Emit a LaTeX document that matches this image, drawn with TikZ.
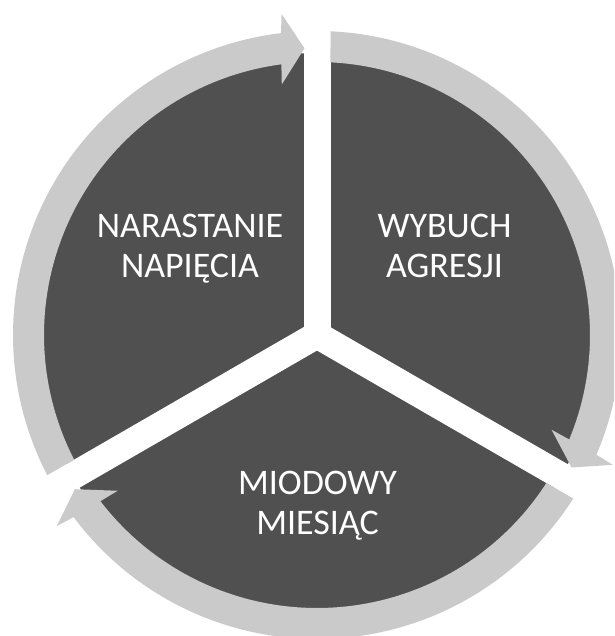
\documentclass[tikz,border=0pt]{standalone}
\usepackage{fontspec}
\setmainfont{Carlito}
\definecolor{segdark}{HTML}{505050}
\definecolor{ringlight}{HTML}{CACACA}
\tikzset{
  segment/.style={fill=segdark},
  gapstrip/.style={fill=white},
  cyclearrow/.style={fill=ringlight},
  phasetext/.style={text=white, font=\fontsize{36}{40}\selectfont, inner sep=0pt, anchor=base}
}
% #1 = angle of the gap where the arrow's tail starts; the head ends at the next gap (clockwise)
\newcommand\cyclearrowpath[1]{%
  \fill[cyclearrow] (#1-2.83:273) arc[start angle=#1-2.83, end angle=#1-112.5, radius=273]
    -- (#1-112:253) -- (#1-117.5:287) -- (#1-113.7:323) -- (#1-113.2:304)
    arc[start angle=#1-113.2, end angle=#1-2.55, radius=304] -- cycle;}
\begin{document}
\begin{tikzpicture}[x=1pt,y=1pt]
\useasboundingbox (0,0) rectangle (614,636);
\clip (0,0) rectangle (614,636);
\begin{scope}[shift={(317,301)}]
  \fill[segment] (0,0) circle[radius=282];
  \foreach \a in {90,210,330} \fill[gapstrip,rotate=\a] (0,-13.5) rectangle (340,13.5);
  \cyclearrowpath{210}
  \cyclearrowpath{90}
  \cyclearrowpath{330}
\end{scope}
\node[phasetext] (t1a) at (190,398) {NARASTANIE};
\node[phasetext] (t1b) at (190,358) {NAPIĘCIA};
\node[phasetext] (t2a) at (444.5,398) {WYBUCH};
\node[phasetext] (t2b) at (444.5,358) {AGRESJI};
\node[phasetext] (t3a) at (317.5,141) {MIODOWY};
\node[phasetext] (t3b) at (317.5,101) {MIESIĄC};
\end{tikzpicture}
\end{document}
